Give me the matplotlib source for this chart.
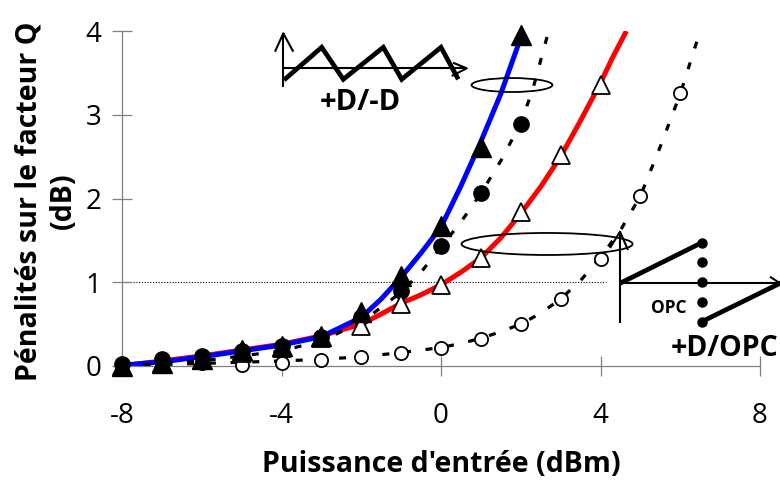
import matplotlib
matplotlib.use("Agg")
import matplotlib.pyplot as plt
from matplotlib.patches import Ellipse

plt.rcParams['font.family'] = ['Open Sans', 'DejaVu Sans']
plt.rcParams['axes.unicode_minus'] = False

# Input power (dBm) at each measurement
x_dd = [-8, -7, -6, -5, -4, -3, -2, -1, 0, 1, 2]
x_opc = [-8, -7, -6, -5, -4, -3, -2, -1, 0, 1, 2, 3, 4]
x_opc2 = [-8, -7, -6, -5, -4, -3, -2, -1, 0, 1, 2, 3, 4, 5, 6]

# Q-factor penalties (dB)
pen_tri_filled = [0.0, 0.04, 0.08, 0.19, 0.24, 0.36, 0.65, 1.08, 1.67, 2.61, 3.95]
pen_dot_filled = [0.02, 0.08, 0.12, 0.18, 0.24, 0.35, 0.58, 0.89, 1.43, 2.06, 2.89]
pen_tri_open = [0.0, 0.03, 0.07, 0.15, 0.22, 0.34, 0.48, 0.74, 0.97, 1.29, 1.84, 2.52, 3.36]
pen_dot_open = [0.02, 0.01, 0.03, 0.01, 0.04, 0.07, 0.11, 0.15, 0.22, 0.32, 0.50, 0.80, 1.28, 2.03, 3.26]

# Fitted trend curves
fit_blue_x = [-8, -7, -6, -5, -4, -3, -2, -1.5, -1, -0.5, 0, 0.5, 1, 1.5, 2, 2.05]
fit_blue_y = [0.01, 0.05, 0.11, 0.18, 0.25, 0.35, 0.58, 0.80, 1.06, 1.35, 1.66, 2.15, 2.68, 3.25, 3.92, 4.0]
fit_red_x = [-8, -7, -6, -5, -4, -3, -2, -1.5, -1, -0.5, 0, 0.5, 1, 1.5, 2, 2.5, 3, 3.5, 4, 4.3, 4.65]
fit_red_y = [0.0, 0.06, 0.12, 0.19, 0.26, 0.36, 0.50, 0.62, 0.75, 0.85, 0.97, 1.12, 1.29, 1.53, 1.82, 2.14, 2.50, 2.93, 3.38, 3.68, 4.0]
fit_dd_x = [-8, -6, -4, -3, -2, -1, -0.5, 0, 0.5, 1, 1.5, 2, 2.3, 2.7]
fit_dd_y = [0.0, 0.06, 0.18, 0.30, 0.52, 0.88, 1.12, 1.42, 1.72, 2.06, 2.45, 2.90, 3.30, 4.0]
fit_opc_x = [-8, -6, -4, -3, -2, -1, 0, 0.5, 1, 1.5, 2, 2.5, 3, 3.5, 4, 4.5, 5, 5.5, 6, 6.5]
fit_opc_y = [0.0, 0.03, 0.06, 0.08, 0.11, 0.16, 0.22, 0.27, 0.33, 0.41, 0.50, 0.63, 0.80, 1.02, 1.30, 1.62, 2.03, 2.62, 3.25, 4.0]

x_ticks = [-8, -4, 0, 4, 8]
y_ticks = [0, 1, 2, 3, 4]
ref_level = 1.0

W, H = 780, 484
fig = plt.figure(figsize=(W / 100, H / 100), dpi=100)
ax = fig.add_axes([122 / W, 118 / H, (760 - 122) / W, (366 - 31) / H])
ax.set_xlim(-8, 8)
ax.set_ylim(0, 4)

grey = '#808080'
for side in ('top', 'right'):
    ax.spines[side].set_visible(False)
for side in ('left', 'bottom'):
    ax.spines[side].set_color(grey)
    ax.spines[side].set_linewidth(0.9)
ax.set_xticks(x_ticks)
ax.set_yticks(y_ticks)
ax.tick_params(direction='inout', length=14, width=0.9, color=grey,
               labelsize=20, labelcolor='black')
ax.tick_params(axis='x', pad=19)
ax.tick_params(axis='y', pad=8)

# reference level
ax.plot([-8, 4.15], [ref_level, ref_level], color='black', lw=0.8,
        ls=(0, (1, 1.5)), zorder=1)

# trend curves
ax.plot(fit_red_x, fit_red_y, color='#ff0000', lw=3.6, zorder=2, solid_capstyle='butt')
ax.plot(fit_blue_x, fit_blue_y, color='#0000ff', lw=3.6, zorder=2.1, solid_capstyle='butt')
ax.plot(fit_dd_x, fit_dd_y, color='black', lw=2.3, ls=(0, (2.2, 4.6)), zorder=2.2)
ax.plot(fit_opc_x, fit_opc_y, color='black', lw=2.3, ls=(0, (2.2, 4.6)), zorder=2.2)

# measurements
ax.plot(x_opc2, pen_dot_open, 'o', ms=9.5, mfc='white', mec='black', mew=1.3,
        ls='none', zorder=3, clip_on=False)
ax.plot(x_dd, pen_dot_filled, 'o', ms=11, mfc='black', mec='black',
        ls='none', zorder=3.1, clip_on=False)
ax.plot(x_opc, pen_tri_open, '^', ms=13.5, mfc='white', mec='black', mew=1.3,
        ls='none', zorder=3.2, clip_on=False)
ax.plot(x_dd, pen_tri_filled, '^', ms=15, mfc='black', mec='black',
        ls='none', zorder=3.3, clip_on=False)

# grouping ellipses
ax.add_patch(Ellipse((1.78, 3.355), 2.03, 0.167, fill=False, ec='black', lw=1.3, zorder=4))
ax.add_patch(Ellipse((2.66, 1.457), 4.29, 0.263, fill=False, ec='black', lw=1.3, zorder=4))

ax.set_xlabel("Puissance d'entrée (dBm)", fontsize=20.5, fontweight='bold')
ax.xaxis.set_label_coords(0.5, -(465 - 366) / (366 - 31), transform=ax.transAxes)
ax.xaxis.label.set_va('center')
ax.set_ylabel("Pénalités sur le facteur Q\n(dB)", fontsize=20.5, fontweight='bold',
              linespacing=1.25)
ax.yaxis.set_label_coords((46 - 122) / (760 - 122), (366 - 201) / (366 - 31))
ax.yaxis.label.set_va('center')

# schematic sketches, drawn in pixel coordinates
deco = fig.add_axes([0, 0, 1, 1], zorder=5)
deco.set_xlim(0, W)
deco.set_ylim(H, 0)
deco.axis('off')
thin = dict(color='black', lw=1.5, solid_capstyle='butt')
thick = dict(color='black', lw=3.4, solid_joinstyle='miter', solid_capstyle='butt')

# dispersion map +D/-D
deco.plot([283.3, 283.3], [86.7, 33.3], **thin)
deco.plot([275, 283.3, 293.3], [51.7, 33.3, 51.7], **thin)
deco.plot([283, 466.7], [68.3, 68.3], **thin)
deco.plot([453, 466.7, 451.7], [62.7, 68.3, 76], **thin)
deco.plot([284, 321.7, 343.3, 383.3, 401.7, 441, 458.3],
          [80, 47.3, 79.3, 47.3, 79.3, 47.3, 79.3], **thick)
deco.text(360, 102, '+D/-D', fontsize=21, fontweight='bold', ha='center', va='center')

# dispersion map +D/OPC
deco.plot([620, 620], [323, 231.7], **thin)
deco.plot([610, 620, 628], [248, 231.7, 250], **thin)
deco.plot([620, 782], [283.3, 283.3], **thin)
deco.plot([770, 780], [276.7, 283.3], **thin)
deco.plot([620, 701.7], [283.3, 242.7], **thick)
deco.plot([701.7, 782], [321.7, 282.3], **thick)
deco.plot([701.7] * 5, [242.7, 262.3, 282.3, 301.7, 321.7], 'o', ms=6.5, color='black')
deco.text(669, 308, 'OPC', fontsize=12.5, fontweight='bold', ha='center', va='center')
deco.text(778, 349, '+D/OPC', fontsize=20.5, fontweight='bold', ha='right', va='center')

fig.savefig('out.png', dpi=100)
